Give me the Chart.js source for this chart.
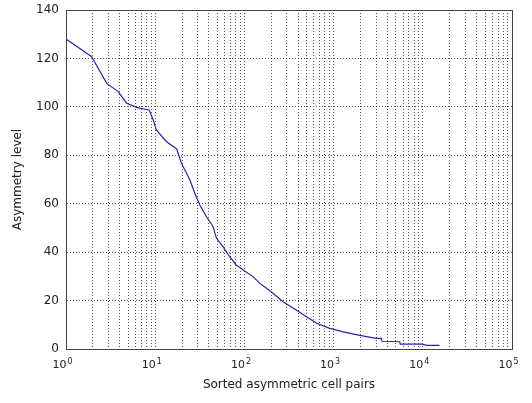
<!DOCTYPE html>
<html>
<head>
<meta charset="utf-8">
<script src="https://cdn.jsdelivr.net/npm/chart.js@4.4.1/dist/chart.umd.min.js"></script>
<style>
  html, body { margin: 0; padding: 0; background: #fff; }
  #wrap { width: 532px; height: 403px; }
</style>
</head>
<body>
<div id="wrap"><canvas id="asymChart" width="532" height="403"></canvas></div>
<script>
        // Dados
        const pairCounts = [1, 1.94, 2.86, 3.85, 4.78, 6.19, 7.67, 8.56, 9.5, 10.3,
            13.4, 17.4, 19.7, 21.5, 24.5, 27.8, 31.6, 37.6, 44.6, 48.7,
            57.6, 68.4, 81, 96.9, 125, 149, 177, 209, 271, 381,
            497, 645, 905, 1280, 1970, 3000, 3430, 3500, 5500, 5600,
            9800, 11000, 15400];
        const asymmetryLevels = [128, 120.7, 109.7, 106.3, 101.5, 99.8, 99, 98.7, 94.6, 90.5,
            85.6, 82.6, 76.7, 73.9, 69.8, 64.3, 59.5, 54.6, 50.5, 45.7,
            42.3, 38.1, 34.7, 32.6, 29.9, 27.1, 25.1, 23, 19.5, 16.1,
            13.3, 10.6, 8.5, 7.1, 5.6, 4.4, 4.4, 3.2, 3, 2,
            2, 1.5, 1.5];

        // Eixos
        const xDecades = [1, 10, 100, 1000, 10000, 100000];
        const xExponents = ['0', '1', '2', '3', '4', '5'];
        const xMinorSteps = [1, 2, 3, 4, 5, 6, 7, 8, 9];
        const yTicks = [0, 20, 40, 60, 80, 100, 120, 140];

        const FONT = '"DejaVu Sans", sans-serif';
        const TEXT_COLOR = '#222';

        // Moldura + rótulos 10^n
        const frameAndLabels = {
            id: 'frameAndLabels',
            afterDraw(chart) {
                const { ctx, chartArea: a, scales: { x } } = chart;
                ctx.save();
                ctx.strokeStyle = '#444';
                ctx.lineWidth = 1;
                ctx.strokeRect(a.left + 0.5, a.top + 0.5, a.right - a.left, a.bottom - a.top);

                ctx.fillStyle = TEXT_COLOR;
                ctx.textBaseline = 'alphabetic';
                xDecades.forEach((v, i) => {
                    const px = x.getPixelForValue(v);
                    ctx.font = '11px ' + FONT;
                    ctx.textAlign = 'right';
                    ctx.fillText('10', px + 0.5, a.bottom + 19);
                    ctx.font = '8px ' + FONT;
                    ctx.textAlign = 'left';
                    ctx.fillText(xExponents[i], px + 1.5, a.bottom + 15);
                });
                ctx.restore();
            }
        };

        const ctx = document.getElementById('asymChart').getContext('2d');
        const asymChart = new Chart(ctx, {
            type: 'line',
            data: {
                datasets: [{
                    label: 'Asymmetry level',
                    data: pairCounts.map((c, i) => ({ x: c, y: asymmetryLevels[i] })),
                    borderColor: '#2626b0',
                    borderWidth: 1.2,
                    pointRadius: 0,
                    tension: 0,
                    fill: false
                }]
            },
            options: {
                responsive: false,
                animation: false,
                layout: { padding: { top: 10, right: 20, left: 0, bottom: 0 } },
                plugins: {
                    legend: { display: false },
                    tooltip: { enabled: false }
                },
                scales: {
                    x: {
                        type: 'logarithmic',
                        min: 1,
                        max: 100000,
                        afterBuildTicks: (axis) => {
                            const ticks = [];
                            xDecades.forEach(d => {
                                if (d === 100000) {
                                    ticks.push({ value: d, major: true });
                                    return;
                                }
                                xMinorSteps.forEach(s => ticks.push({ value: d * s, major: s === 1 }));
                            });
                            axis.ticks = ticks;
                        },
                        afterFit: (axis) => {
                            axis.height = 54;
                            axis.paddingLeft = 0;
                            axis.paddingRight = 0;
                        },
                        ticks: { display: false },
                        grid: { color: '#555', lineWidth: 1, drawTicks: false },
                        border: { display: true, color: '#444', dash: [1, 2] },
                        title: {
                            display: true,
                            text: 'Sorted asymmetric cell pairs',
                            color: TEXT_COLOR,
                            font: { family: FONT, size: 12 },
                            padding: { top: 0, bottom: 11 }
                        }
                    },
                    y: {
                        min: 0,
                        max: 140,
                        afterBuildTicks: (axis) => {
                            axis.ticks = yTicks.map(v => ({ value: v }));
                        },
                        afterFit: (axis) => {
                            axis.width = 66;
                            axis.paddingTop = 0;
                            axis.paddingBottom = 0;
                        },
                        ticks: {
                            color: TEXT_COLOR,
                            font: { family: FONT, size: 12 },
                            padding: 7
                        },
                        grid: { color: '#555', lineWidth: 1, drawTicks: false },
                        border: { display: true, color: '#444', dash: [1, 2] },
                        title: {
                            display: true,
                            text: 'Asymmetry level',
                            color: TEXT_COLOR,
                            font: { family: FONT, size: 12 },
                            padding: { top: 11, bottom: 0 }
                        }
                    }
                }
            },
            plugins: [frameAndLabels]
        });
</script>
</body>
</html>
